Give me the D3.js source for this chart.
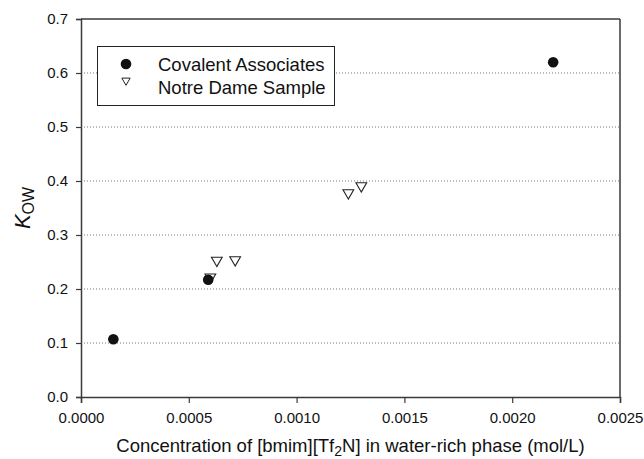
<!DOCTYPE html>
<html>
<head>
<meta charset="utf-8">
<script src="https://cdn.jsdelivr.net/npm/d3@7"></script>
<style>
  html, body { margin: 0; padding: 0; background: #fff; }
  svg { display: block; font-family: "Liberation Sans", Arial, sans-serif; }
</style>
</head>
<body>
<svg id="chart" width="644" height="459"></svg>
<script>
// Partition coefficient K_OW vs. [bmim][Tf2N] concentration in the water-rich phase
const covalentX = [0.00015, 0.00059, 0.00219];
const covalentY = [0.107, 0.217, 0.620];
const notreDameX = [0.00060, 0.00063, 0.000715, 0.00124, 0.00130];
const notreDameY = [0.222, 0.253, 0.254, 0.378, 0.391];
const xTicks = [0, 0.0005, 0.0010, 0.0015, 0.0020, 0.0025];
const yTicks = [0, 0.1, 0.2, 0.3, 0.4, 0.5, 0.6, 0.7];
const seriesNames = ["Covalent Associates", "Notre Dame Sample"];

const svg = d3.select("#chart");
const margin = { left: 81, right: 24, top: 19, bottom: 62 };
const W = 644, H = 459;

const x = d3.scaleLinear().domain([0, 0.0025]).range([margin.left, W - margin.right]);
const y = d3.scaleLinear().domain([0, 0.7]).range([H - margin.bottom, margin.top]);

const axisColor = "#3a3a3a";

// dotted horizontal gridlines
svg.append("g")
  .selectAll("line")
  .data(yTicks.filter(t => t > 0 && t < 0.7))
  .join("line")
  .attr("x1", x(0)).attr("x2", x(0.0025))
  .attr("y1", d => y(d)).attr("y2", d => y(d))
  .attr("stroke", "#777").attr("stroke-width", 1)
  .attr("stroke-dasharray", "1,2");

// frame: top and right edges
svg.append("line")
  .attr("x1", x(0)).attr("x2", x(0.0025))
  .attr("y1", y(0.7)).attr("y2", y(0.7))
  .attr("stroke", axisColor).attr("stroke-width", 1.5);
svg.append("line")
  .attr("x1", x(0.0025)).attr("x2", x(0.0025))
  .attr("y1", y(0)).attr("y2", y(0.7))
  .attr("stroke", axisColor).attr("stroke-width", 1.5);

// x axis
const xAxis = svg.append("g")
  .attr("transform", `translate(0,${y(0)})`)
  .call(d3.axisBottom(x).tickValues(xTicks).tickFormat(d3.format(".4f")).tickSizeOuter(0).tickSize(6).tickPadding(9));
// y axis
const yAxis = svg.append("g")
  .attr("transform", `translate(${x(0)},0)`)
  .call(d3.axisLeft(y).tickValues(yTicks).tickFormat(d3.format(".1f")).tickSizeOuter(0).tickSize(5).tickPadding(8));

[xAxis, yAxis].forEach(g => {
  g.select(".domain").attr("stroke", axisColor).attr("stroke-width", 1.5);
  g.selectAll(".tick line").attr("stroke", axisColor).attr("stroke-width", 1.2);
  g.selectAll(".tick text")
    .attr("fill", "#111")
    .style("font-family", "'Liberation Sans', Arial, sans-serif")
    .style("font-size", "15px");
});

// axis titles
const xTitle = svg.append("text")
  .attr("x", (x(0) + x(0.0025)) / 2)
  .attr("y", 452)
  .attr("text-anchor", "middle")
  .attr("fill", "#111")
  .style("font-size", "18.5px");
xTitle.append("tspan").text("Concentration of [bmim][Tf");
xTitle.append("tspan").attr("dy", 4).style("font-size", "14px").text("2");
xTitle.append("tspan").attr("dy", -4).text("N] in water-rich phase (mol/L)");

const yTitle = svg.append("text")
  .attr("transform", `translate(30,${(y(0) + y(0.7)) / 2}) rotate(-90)`)
  .attr("text-anchor", "middle")
  .attr("fill", "#111");
yTitle.append("tspan").style("font-size", "22px").style("font-style", "italic").text("K");
yTitle.append("tspan").attr("dy", 4).style("font-size", "16px").text("OW");

// data points
const triangle = d3.symbol().type(d3.symbolTriangle);
function downTri(size) {
  return triangle.size(size)();
}

svg.append("g")
  .selectAll("path")
  .data(notreDameX.map((v, i) => [v, notreDameY[i]]))
  .join("path")
  .attr("d", downTri(50))
  .attr("transform", d => `translate(${x(d[0])},${y(d[1])}) rotate(180)`)
  .attr("fill", "#fff")
  .attr("stroke", "#222")
  .attr("stroke-width", 1.1);

svg.append("g")
  .selectAll("circle")
  .data(covalentX.map((v, i) => [v, covalentY[i]]))
  .join("circle")
  .attr("cx", d => x(d[0]))
  .attr("cy", d => y(d[1]))
  .attr("r", 5.3)
  .attr("fill", "#111");

// legend
const legend = svg.append("g");
legend.append("rect")
  .attr("x", 97.5).attr("y", 46.5)
  .attr("width", 237).attr("height", 59)
  .attr("fill", "#fff")
  .attr("stroke", "#222").attr("stroke-width", 1);
legend.append("circle")
  .attr("cx", 126).attr("cy", 64).attr("r", 5.3).attr("fill", "#111");
legend.append("path")
  .attr("d", downTri(30))
  .attr("transform", "translate(126,80.5) rotate(180)")
  .attr("fill", "#fff").attr("stroke", "#222").attr("stroke-width", 1);
legend.selectAll("text.lab")
  .data(seriesNames)
  .join("text")
  .attr("class", "lab")
  .attr("x", 158)
  .attr("y", (d, i) => 71 + i * 23)
  .attr("fill", "#111")
  .style("font-size", "18.5px")
  .text(d => d);
</script>
</body>
</html>
